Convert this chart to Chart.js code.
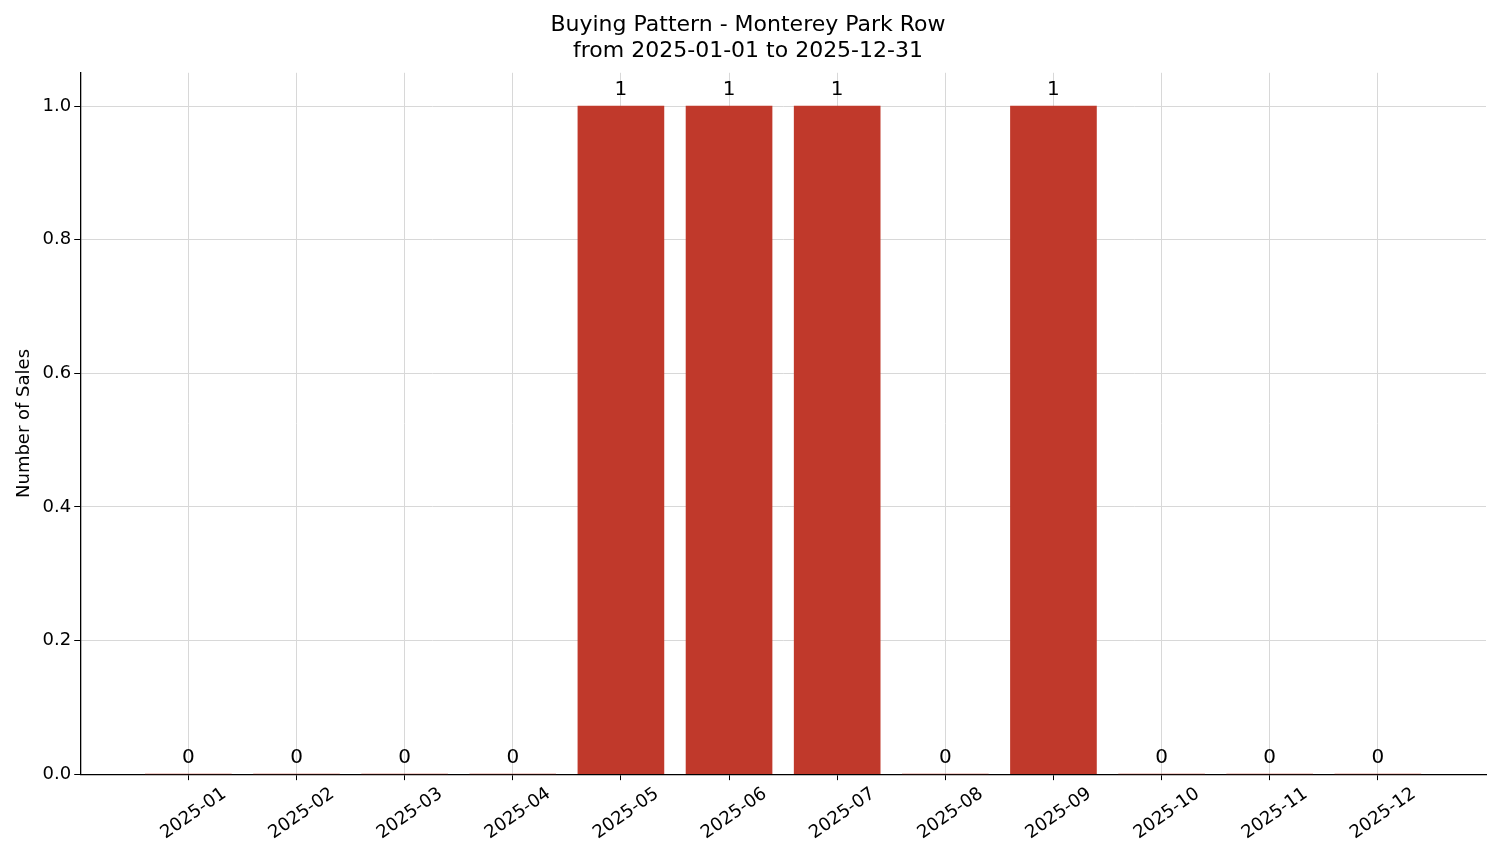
<!DOCTYPE html>
<html>
<head>
<meta charset="utf-8">
<script src="https://cdn.jsdelivr.net/npm/chart.js@4/dist/chart.umd.min.js"></script>
<style>
  html, body { margin: 0; padding: 0; background: #fff; }
  #wrap { width: 1501px; height: 863px; }
</style>
</head>
<body>
<div id="wrap"><canvas id="chart"></canvas></div>
<script>
// Monthly sales counts
const months = ['2025-01','2025-02','2025-03','2025-04','2025-05','2025-06',
                '2025-07','2025-08','2025-09','2025-10','2025-11','2025-12'];
const sales  = [0, 0, 0, 0, 1, 1, 1, 0, 1, 0, 0, 0];
const yTicks = [0, 0.2, 0.4, 0.6, 0.8, 1.0];

const FONT = 'DejaVu Sans';

// value labels above each bar
const valueLabels = {
    id: 'valueLabels',
    afterDatasetsDraw(chart) {
        const { ctx, scales: { x, y } } = chart;
        ctx.save();
        ctx.font = `20px "${FONT}"`;
        ctx.fillStyle = '#000';
        ctx.textAlign = 'center';
        ctx.textBaseline = 'bottom';
        sales.forEach((v, i) => ctx.fillText(String(v), x.getPixelForValue(i), y.getPixelForValue(v) - 6));
        ctx.restore();
    }
};

new Chart(document.getElementById('chart'), {
    type: 'bar',
    data: {
        datasets: [{
            data: sales.map((v, i) => ({ x: i, y: v })),
            backgroundColor: '#c0392b',
            barThickness: 86,
        }]
    },
    options: {
        responsive: true, maintainAspectRatio: false, animation: false,
        layout: { padding: { top: 8, right: 15, left: 10, bottom: 16 } },
        plugins: {
            legend: { display: false },
            tooltip: { enabled: false },
            title: {
                display: true,
                text: ['Buying Pattern - Monterey Park Row', 'from 2025-01-01 to 2025-12-31'],
                color: '#000', font: { family: FONT, size: 22, weight: 'normal', lineHeight: 1.2 },
                padding: { top: 4, bottom: 8 }
            }
        },
        scales: {
            x: {
                type: 'linear', min: -1, max: 12, offset: false,
                afterBuildTicks: s => { s.ticks = months.map((m, i) => ({ value: i })); },
                ticks: {
                    callback: v => months[v] ?? '',
                    color: '#000', font: { family: FONT, size: 18 },
                    maxRotation: 35, minRotation: 35, autoSkip: false,
                    labelOffset: 36
                },
                grid: { color: '#d8d8d8', offset: false, tickColor: '#000', tickLength: 6 },
                border: { color: '#000', width: 1.3 }
            },
            y: {
                min: 0, max: 1.05,
                afterBuildTicks: s => { s.ticks = yTicks.map(v => ({ value: v })); },
                ticks: { callback: v => v.toFixed(1), color: '#000', font: { family: FONT, size: 18 } },
                grid: { color: '#d8d8d8', tickColor: '#000', tickLength: 6 },
                border: { color: '#000', width: 1.3 },
                title: { display: true, text: 'Number of Sales', color: '#000', font: { family: FONT, size: 18 } }
            }
        }
    },
    plugins: [valueLabels]
});
</script>
</body>
</html>
